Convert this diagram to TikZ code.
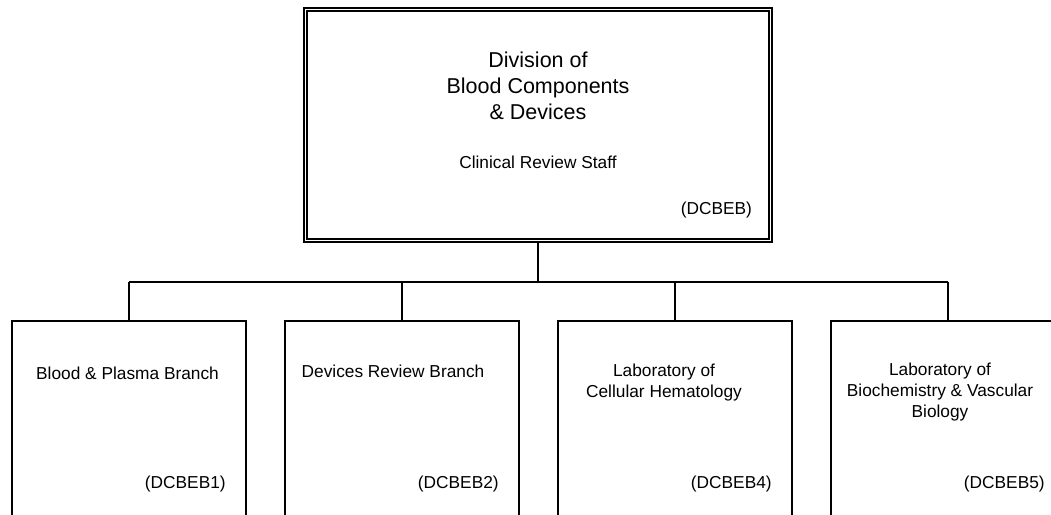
\documentclass[tikz,border=0pt]{standalone}
\usepackage{fontspec}
\setmainfont{Liberation Sans}
\usetikzlibrary{positioning}

\tikzset{
    division/.style={
        draw, double, double distance=1.8pt, line width=1.8pt,
        minimum width=465pt, minimum height=231pt,
        inner sep=0pt, outer sep=2.7pt
        },
    branch/.style={
        draw, line width=1.8pt,
        minimum width=234pt, minimum height=260pt,
        anchor=north, inner sep=0pt
        },
    orgtext/.style={inner sep=0pt, align=center, font=\fontsize{17.3}{21}\selectfont},
    codelabel/.style={orgtext, anchor=east},
    link/.style={line width=1.8pt}
}

\begin{document}
\begin{tikzpicture}[x=1pt,y=-1pt]
    % page area: the branch boxes run off the bottom and the right edge
    \clip (0,0) rectangle (1051,514);

    % Division box:
    \node[division] (dcbeb) at (538,125) {};
    \node[orgtext, font=\fontsize{21.5}{26}\selectfont] (divtitle)
        at ([yshift=-79pt]dcbeb.north) {Division of\\Blood Components\\\& Devices};
    \node[orgtext] (staff) at ([yshift=-156pt]dcbeb.north) {Clinical Review Staff};
    \node[codelabel] (divcode) at ([xshift=-21pt,yshift=-203pt]dcbeb.north east) {(DCBEB)};

    % bus line between the division and its branches
    \coordinate (bus) at (538,282);
    \draw[link] (dcbeb.south) -- (dcbeb.south |- bus);

    % Branch boxes:
    \foreach \i/\x/\code in {1/129/DCBEB1, 2/402/DCBEB2, 3/675/DCBEB4, 4/948/DCBEB5} {
            % box hanging from the bus
            \node[branch] (b\i) at (\x,320) {};
            \draw[link] (b\i.north) -- (b\i.north |- bus);
            % office code in the lower right corner
            \node[codelabel] (c\i) at ([xshift=-21pt,yshift=-164pt]b\i.north east) {(\code)};
    }
    \draw[link] (b1.north |- bus) -- (b4.north |- bus);

    % branch names
    \node[orgtext] (t1) at ([xshift=-1.5pt,yshift=-53pt]b1.north) {Blood \& Plasma Branch};
    \node[orgtext] (t2) at ([xshift=-9pt,yshift=-51pt]b2.north) {Devices Review Branch};
    \node[orgtext] (t3) at ([xshift=-11pt,yshift=-63pt]b3.north) {Laboratory of\\Cellular Hematology};
    \node[orgtext] (t4) at ([xshift=-8pt,yshift=-72pt]b4.north) {Laboratory of\\Biochemistry \& Vascular\\Biology};
\end{tikzpicture}
\end{document}
